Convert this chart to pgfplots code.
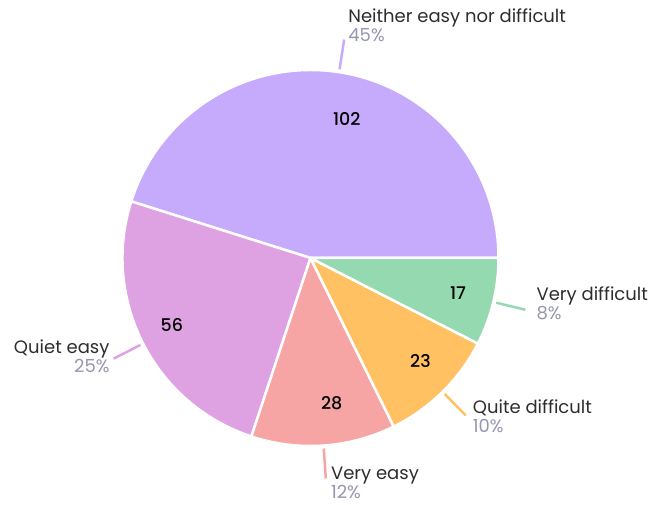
\documentclass[border=0pt]{standalone}
\usepackage{pgfplots}
\usepackage{pgfplotstable}
\pgfplotsset{compat=1.18}
\usepackage{fontspec}
\setmainfont{Poppins}
\newfontface\numface{Poppins Medium}

\definecolor{cNeither}{RGB}{198,170,252}
\definecolor{cQuiet}{RGB}{222,162,226}
\definecolor{cVeasy}{RGB}{246,164,164}
\definecolor{cQdiff}{RGB}{255,193,97}
\definecolor{cVdiff}{RGB}{148,217,176}
\definecolor{pctgray}{RGB}{150,150,178}
\definecolor{namegray}{RGB}{45,45,45}

% slices counter-clockwise from 3 o'clock
% lx,ly: shift of the outer label, ndx,ndy: shift of the count inside
\pgfplotstableread[col sep=comma]{
value,col,name,anch,al,lx,ly,ndx,ndy
102,cNeither,Neither easy nor difficult,west,left,0,14,14,-6
56,cQuiet,Quiet easy,east,right,0,2,-8,0
28,cVeasy,Very easy,west,left,1,-4,11,1
23,cQdiff,Quite difficult,west,left,3,-1,7,1
17,cVdiff,Very difficult,west,left,7,6,5,-1
}\piedata

\newcommand\labfont{\fontsize{18bp}{19bp}\selectfont}
\newcommand\numfont{\fontsize{17.5bp}{19bp}\selectfont\numface}

\begin{document}
\begin{tikzpicture}
\begin{axis}[
  hide axis, scale only axis,
  x=1bp, y=1bp,
  xmin=0, xmax=651, ymin=0, ymax=505,
  clip=false,
]
\path (rel axis cs:0,0) coordinate (bl) (rel axis cs:1,1) coordinate (tr);
\def\cx{310.5}\def\cy{247}\def\rr{188}
\def\total{0}
\pgfplotstableforeachcolumnelement{value}\of\piedata\as\v{%
  \pgfmathparse{\total+\v}\xdef\total{\pgfmathresult}}
\def\acc{0}
\pgfplotsforeachungrouped \i in {0,...,4}{%
  \pgfplotstablegetelem{\i}{value}\of\piedata \let\v\pgfplotsretval
  \pgfplotstablegetelem{\i}{col}\of\piedata \let\col\pgfplotsretval
  \pgfplotstablegetelem{\i}{name}\of\piedata \let\nm\pgfplotsretval
  \pgfplotstablegetelem{\i}{anch}\of\piedata \let\an\pgfplotsretval
  \pgfplotstablegetelem{\i}{al}\of\piedata \let\al\pgfplotsretval
  \pgfplotstablegetelem{\i}{lx}\of\piedata \let\lx\pgfplotsretval
  \pgfplotstablegetelem{\i}{ly}\of\piedata \let\ly\pgfplotsretval
  \pgfplotstablegetelem{\i}{ndx}\of\piedata \let\ndx\pgfplotsretval
  \pgfplotstablegetelem{\i}{ndy}\of\piedata \let\ndy\pgfplotsretval
  \pgfmathsetmacro\aA{360*(\acc/\total)}
  \pgfmathsetmacro\aB{360*((\acc+\v)/\total)}
  \pgfmathsetmacro\aM{(\aA+\aB)/2}
  \pgfmathsetmacro\acc{\acc+\v}
  \pgfmathtruncatemacro\pct{round(100*(\v/\total))}
  \pgfmathtruncatemacro\vv{\v}
  \pgfmathsetmacro\sx{\cx+(\rr+3)*cos(\aM)}
  \pgfmathsetmacro\sy{\cy+(\rr+3)*sin(\aM)}
  \pgfmathsetmacro\ex{\cx+(\rr+33)*cos(\aM)}
  \pgfmathsetmacro\ey{\cy+(\rr+33)*sin(\aM)}
  \pgfmathsetmacro\nx{\cx+0.78*\rr*cos(\aM)+\ndx}
  \pgfmathsetmacro\ny{\cy+0.78*\rr*sin(\aM)+\ndy}
  \edef\cmd{%
    \noexpand\fill[\col, draw=white, line width=2.5bp, line join=round]
      (axis cs:\cx,\cy) -- ++(\aA:\rr bp) arc[start angle=\aA, end angle=\aB, radius=\rr bp] -- cycle;
    \noexpand\draw[\col, line width=2.5bp] (axis cs:\sx,\sy) -- (axis cs:\ex,\ey)
      node[anchor=\an, align=\al, inner sep=3bp, xshift=\lx bp, yshift=\ly bp,
           text=namegray, font=\noexpand\labfont]
      {\nm\noexpand\\\noexpand\textcolor{pctgray}{\pct\noexpand\%}};
    \noexpand\node[font=\noexpand\numfont, text=black] at (axis cs:\nx,\ny) {\vv};
  }\cmd
}
\end{axis}
\pgfresetboundingbox
\path (bl) rectangle (tr);
\end{tikzpicture}
\end{document}
